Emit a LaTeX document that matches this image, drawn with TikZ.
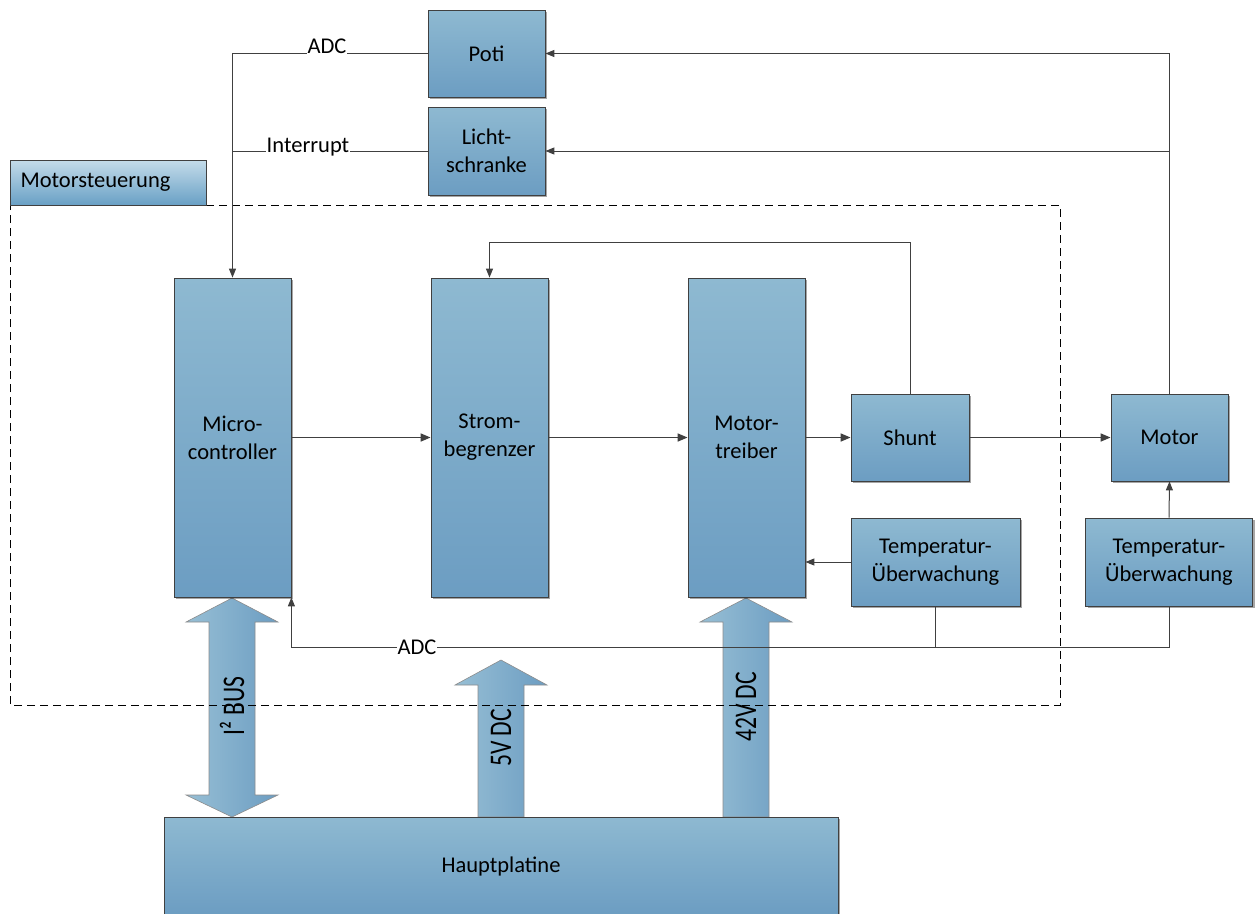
\documentclass[tikz,border=0pt]{standalone}
\usepackage{fontspec}
\usepackage{graphicx}
\setmainfont{Carlito}
\usetikzlibrary{arrows.meta,shadows,calc}
\definecolor{boxtop}{RGB}{142,185,209}
\definecolor{boxbot}{RGB}{108,157,194}
\definecolor{linec}{RGB}{64,64,64}
\definecolor{tabtop}{RGB}{196,220,234}
\definecolor{tabmid}{RGB}{225,238,245}
\definecolor{tabbot}{RGB}{105,160,197}
\begin{document}
\begin{tikzpicture}[x=1pt,y=-1pt,
  txt/.style={font=\fontsize{22.5}{28}\selectfont},
  box/.style={txt,draw=linec,line width=0.8pt,top color=boxtop,bottom color=boxbot,
    drop shadow={shadow xshift=2pt,shadow yshift=-2pt,fill=black,opacity=0.35},
    align=center,inner sep=2pt},
  conn/.style={draw=linec,line width=1pt},
  arr/.style={conn,-{Triangle[length=9pt,width=7pt]}},
  flow/.style={draw=linec,line width=1.6pt,-{Triangle[length=10pt,width=8pt]}},
  big/.style={draw=black!45,line width=0.6pt,left color=boxtop!92!white,right color=boxbot},
  lbl/.style={txt,fill=white,inner sep=1pt}]
\useasboundingbox (0,0) rectangle (1255,913);

% big arrows
\path[big] (232,598) -- (278,622) -- (255,622) -- (255,795) -- (278,795) -- (232,817)
  -- (186,795) -- (209,795) -- (209,622) -- (186,622) -- cycle;
\path[big] (501,660) -- (547,685) -- (524,685) -- (524,817) -- (478,817) -- (478,685) -- (455,685) -- cycle;
\path[big] (746,598) -- (792,622) -- (769,622) -- (769,817) -- (723,817) -- (723,622) -- (700,622) -- cycle;
\node[txt,rotate=90] (i2c) at (232,706) {\scalebox{1.05}[1.4]{I² BUS}};
\node[txt,rotate=90] (v5) at (501,738) {\scalebox{1.05}[1.4]{5V DC}};
\node[txt,rotate=90] (v42) at (746,707) {\scalebox{1.05}[1.4]{42V DC}};

% Hauptplatine
\node[box,minimum width=674pt,minimum height=98pt] (haupt) at (501,866) {Hauptplatine};

% Motorsteuerung frame
\draw[black,line width=1pt,dash pattern=on 8pt off 5pt] (206,205) -- (1060,205) -- (1060,705) -- (10,705) -- (10,205);
\draw[linec,line width=0.8pt,top color=tabtop,middle color=tabmid,bottom color=tabbot] (10,160) rectangle (206,205);
\node[txt,anchor=west] (ms) at (17,182) {Motorsteuerung};

% boxes
\node[box,minimum width=117pt,minimum height=87pt] (poti) at (486.5,53.5) {Poti};
\node[box,minimum width=117pt,minimum height=88pt] (licht) at (486.5,151) {Licht-\\schranke};
\node[box,minimum width=117pt,minimum height=319pt] (micro) at (232.5,437.5) {Micro-\\controller};
\node[box,minimum width=117pt,minimum height=319pt] (strom) at (489.5,437.5) {Strom-\\begrenzer};
\node[box,minimum width=117pt,minimum height=319pt] (treiber) at (746.5,437.5) {Motor-\\treiber};
\node[box,minimum width=118pt,minimum height=87pt] (shunt) at (910,437.5) {Shunt};
\node[box,minimum width=117pt,minimum height=87pt] (motor) at (1169.5,437.5) {Motor};
\node[box,minimum width=169pt,minimum height=88pt] (temp1) at (935.5,562) {Temperatur-\\Überwachung};
\node[box,minimum width=167pt,minimum height=88pt] (temp2) at (1169,562) {Temperatur-\\Überwachung};

% helper coordinates
\coordinate (fb) at (910,242);
\coordinate (adcY) at (0,647);

% connectors
\draw[arr] (poti.west) -| (micro.north);
\draw[conn] (licht.west) -- (licht.west -| micro.north);
\draw[arr] (motor.north) -- (motor.north |- poti.east) -- (poti.east);
\draw[arr] (motor.north |- licht.east) -- (licht.east);
\draw[arr] (shunt.north) -- (fb) -| (strom.north);
\draw[flow] (micro.east) -- (strom.west);
\draw[flow] (strom.east) -- (treiber.west);
\draw[flow] (treiber.east |- shunt.west) -- (shunt.west);
\draw[flow] (shunt.east) -- (motor.west);
\draw[arr] (temp1.west) -- (temp1.west -| treiber.east);
\draw[arr] (temp2.north) -- (motor.south);
\draw[conn] (temp1.south) -- (temp1.south |- adcY);
\draw[arr] (temp2.south) -- (temp2.south |- adcY) -- (micro.south east |- adcY) -- (micro.south east);

% labels
\node[lbl,anchor=base] (l1) at (327,53) {ADC};
\node[lbl,anchor=base] (l2) at (308,152) {Interrupt};
\node[lbl] (l3) at (417,647) {ADC};
\end{tikzpicture}
\end{document}
